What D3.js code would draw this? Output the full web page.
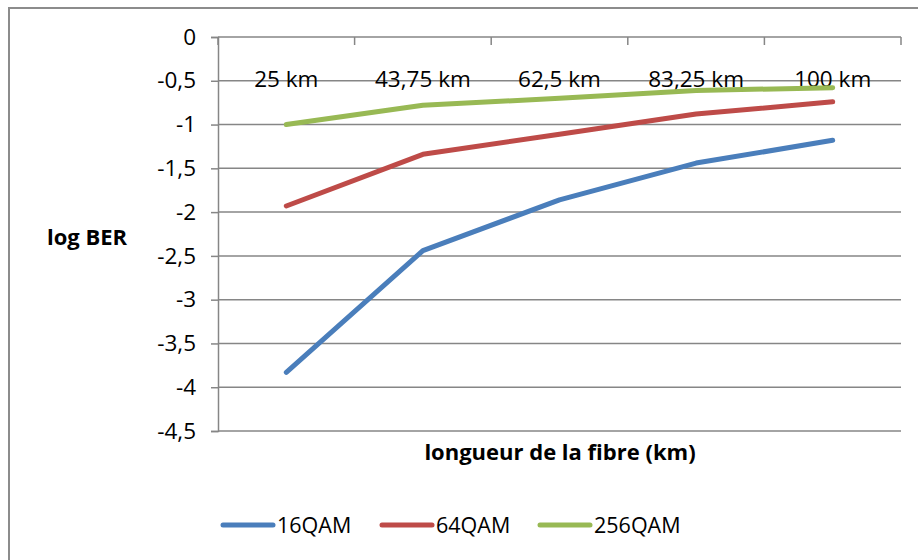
<!DOCTYPE html>
<html>
<head>
<meta charset="utf-8">
<script src="https://cdn.jsdelivr.net/npm/d3@7"></script>
<style>
  html, body { margin: 0; padding: 0; background: #fff; }
  svg { display: block; }
  text { font-family: "Open Sans", Lato, "Liberation Sans", sans-serif; fill: #000; }
</style>
</head>
<body>
<svg id="chart" width="918" height="560"></svg>
<script>
// Fibre lengths (categories) and log BER per modulation format
const categories = ["25 km", "43,75 km", "62,5 km", "83,25 km", "100 km"];
const qam16  = [-3.83, -2.44, -1.86, -1.44, -1.18];
const qam64  = [-1.93, -1.34, -1.11, -0.88, -0.74];
const qam256 = [-1.00, -0.78, -0.70, -0.61, -0.58];
const seriesNames = ["16QAM", "64QAM", "256QAM"];
const yTicks = [0, -0.5, -1, -1.5, -2, -2.5, -3, -3.5, -4, -4.5];

const series = [
  { name: seriesNames[0], values: qam16,  color: "#4A7EBB" },
  { name: seriesNames[1], values: qam64,  color: "#BE4B48" },
  { name: seriesNames[2], values: qam256, color: "#98B954" }
];

const svg = d3.select("#chart");
const plot = { left: 218, right: 901, top: 37, bottom: 431 };
const gridColor = "#868686";
const font = "'Open Sans', Lato, sans-serif";
const labelSize = "22.5px";

// chart frame (left and top edges)
svg.append("path")
  .attr("d", "M9,560 V8 H918")
  .attr("fill", "none")
  .attr("stroke", "#8c8c8c")
  .attr("stroke-width", 2);

const x = d3.scalePoint().domain(categories).range([plot.left, plot.right]).padding(0.5);
const xBand = d3.scaleBand().domain(categories).range([plot.left, plot.right]);
const y = d3.scaleLinear().domain([0, -4.5]).range([plot.top, plot.bottom]);

// horizontal gridlines
svg.append("g").selectAll("line")
  .data(yTicks)
  .join("line")
  .attr("x1", plot.left).attr("x2", plot.right)
  .attr("y1", d => y(d)).attr("y2", d => y(d))
  .attr("stroke", gridColor).attr("stroke-width", 1.5);

// value axis
const fmt = d => String(d).replace(".", ",");
const yAxis = svg.append("g")
  .attr("transform", `translate(${plot.left},0)`)
  .call(d3.axisLeft(y).tickValues(yTicks).tickSize(7).tickPadding(15).tickFormat(fmt));
yAxis.select(".domain").attr("stroke", gridColor).attr("stroke-width", 1.5);
yAxis.selectAll(".tick line").attr("stroke", gridColor).attr("stroke-width", 1.5);
yAxis.selectAll(".tick text")
  .style("font-size", labelSize)
  .style("font-family", font)
  .attr("fill", "#000");

// category axis along the zero line, ticks between categories
const boundaries = categories.map(c => xBand(c)).concat([plot.right]);
svg.append("g").selectAll("line")
  .data(boundaries)
  .join("line")
  .attr("x1", d => d).attr("x2", d => d)
  .attr("y1", y(0)).attr("y2", y(0) + 8)
  .attr("stroke", gridColor).attr("stroke-width", 1.5);

svg.append("g").selectAll("text")
  .data(categories)
  .join("text")
  .attr("x", d => x(d))
  .attr("y", 87)
  .attr("text-anchor", "middle")
  .style("font-size", labelSize)
  .text(d => d);

// series lines
const line = d3.line()
  .x((d, i) => x(categories[i]))
  .y(d => y(d));

svg.append("g").selectAll("path")
  .data(series)
  .join("path")
  .attr("d", s => line(s.values))
  .attr("fill", "none")
  .attr("stroke", s => s.color)
  .attr("stroke-width", 5)
  .attr("stroke-linecap", "round")
  .attr("stroke-linejoin", "round");

// axis titles
svg.append("text")
  .attr("x", 87).attr("y", 245)
  .attr("text-anchor", "middle")
  .style("font-size", "22px").style("font-weight", "bold")
  .text("log BER");

svg.append("text")
  .attr("x", 560).attr("y", 460)
  .attr("text-anchor", "middle")
  .style("font-size", "22px").style("font-weight", "bold")
  .text("longueur de la fibre (km)");

// legend
const legendX = [223, 382, 540];
const legend = svg.append("g").selectAll("g")
  .data(series)
  .join("g")
  .attr("transform", (d, i) => `translate(${legendX[i]},525)`);
legend.append("line")
  .attr("x1", 0).attr("x2", 50)
  .attr("stroke", d => d.color).attr("stroke-width", 5)
  .attr("stroke-linecap", "round");
legend.append("text")
  .attr("x", 54).attr("y", 8)
  .style("font-size", "21.5px")
  .text(d => d.name);
</script>
</body>
</html>
